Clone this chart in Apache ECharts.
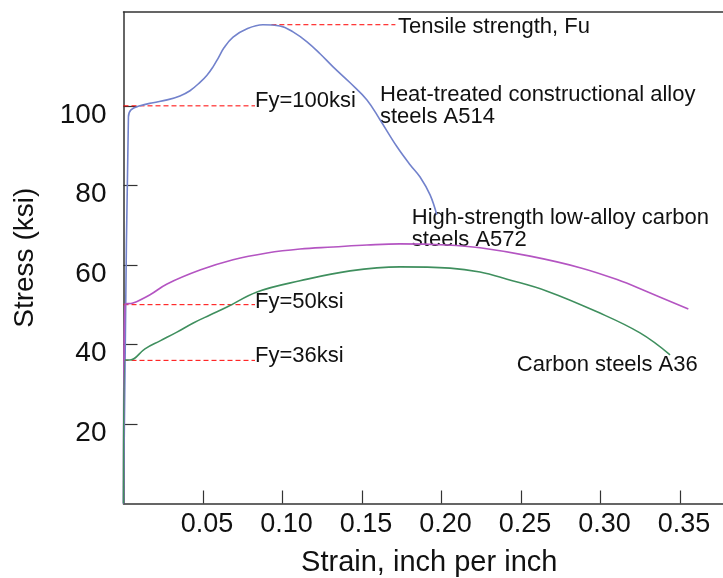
<!DOCTYPE html>
<html>
<head>
<meta charset="utf-8">
<script src="https://cdn.jsdelivr.net/npm/echarts@6/dist/echarts.min.js"></script>
<style>html,body{margin:0;background:#fff}#chart{width:723px;height:578px}</style>
</head>
<body>
<div id="chart"></div>
<script>
// stress-strain curves, [strain, stress ksi]
const a514=[[0,0],[0.0031,97.2],[0.0047,99.0],[0.0104,100.0],[0.0186,100.8],[0.0274,101.5],[0.0355,102.5],
  [0.0418,103.8],[0.0481,105.9],[0.0525,107.7],[0.0563,109.8],[0.0594,111.9],[0.0632,114.6],[0.0689,117.3],
  [0.0777,119.4],[0.0877,120.4],[0.0984,120.1],[0.1066,118.6],[0.1154,116.1],[0.1236,113.1],[0.1318,109.8],
  [0.1425,105.8],[0.1531,101.5],[0.1613,96.5],[0.172,89.7],[0.1802,85.2],[0.1865,82.1],[0.1928,77.6],[0.197,72.6]];
const a572=[[0,0],[0.001,50.1],[0.006,50.4],[0.0167,52.5],[0.0274,55.2],[0.0481,58.7],[0.0689,61.3],
  [0.0903,63],[0.111,64],[0.1318,64.5],[0.1531,65],[0.1739,65.3],[0.2035,65],[0.2242,64.3],[0.2557,62.2],
  [0.2871,59.3],[0.3104,56.3],[0.329,53.3],[0.3552,48.9]];
const a36=[[0,0],[0.001,36.1],[0.0041,36.1],[0.0135,38.9],[0.023,40.9],[0.0336,43.1],[0.0439,45.4],
  [0.0544,47.4],[0.0651,49.4],[0.084,53.2],[0.111,56],[0.1425,58.5],[0.1739,59.5],[0.2053,59.2],
  [0.2242,58.2],[0.2412,56.4],[0.2664,53.4],[0.2978,48.2],[0.3248,42.9],[0.3437,37.4]];

// dashed reference lines: [stress, from strain, to strain]
const refLines=[[100,0,0.0827],[120.4,0.093,0.171],[50,0,0.0827],[36,0,0.0827]];

// texts, [strain, stress] of left-middle of text
const noteText=["Tensile strength, Fu","Fy=100ksi","Fy=50ksi","Fy=36ksi",
  "Heat-treated constructional alloy\nsteels A514","High-strength low-alloy carbon\nsteels A572","Carbon steels A36"];
const notePos=[[0.1726,119.75],[0.0827,101.2],[0.0827,50.6],[0.0827,37.0],
  [0.1613,100.0],[0.1813,69.1],[0.2473,34.8]];

const xTicks=[0.05,0.10,0.15,0.20,0.25,0.30,0.35];
const yTicks=[20,40,60,80,100];

const font="'Liberation Sans', Arial, sans-serif";
const ink="#111";
const axisCol="#333";

const curve=(d,c)=>({type:"line",data:d,showSymbol:false,smooth:0.4,silent:true,
  lineStyle:{color:c,width:1.6}});
const dashLine=l=>({type:"line",data:[[l[1],l[0]],[l[2],l[0]]],showSymbol:false,silent:true,
  lineStyle:{color:"#ff0000",type:[5,3],width:1}});

const chart=echarts.init(document.getElementById("chart"));
chart.setOption({
  animation:false,
  grid:{left:123.5,right:0,top:12,bottom:74.5,outerBoundsMode:"none"},
  xAxis:[{
    type:"value",min:0,max:0.377,
    name:"Strain, inch per inch",nameLocation:"middle",nameGap:45,
    nameTextStyle:{color:ink,fontFamily:font,fontSize:29,padding:[0,0,0,12]},
    axisLine:{lineStyle:{color:axisCol,width:1.5}},
    axisTick:{inside:true,length:13,customValues:xTicks,lineStyle:{color:axisCol,width:1.2}},
    axisLabel:{color:ink,fontFamily:font,fontSize:27,margin:8,padding:[0,0,0,8],
      customValues:xTicks,formatter:v=>v.toFixed(2)},
    splitLine:{show:false}
  },{
    type:"value",position:"top",min:0,max:0.377,
    axisLine:{show:true,lineStyle:{color:axisCol,width:1.5}},
    axisTick:{show:false},axisLabel:{show:false},splitLine:{show:false}
  }],
  yAxis:{
    type:"value",min:0,max:123.6,
    name:"Stress (ksi)",nameLocation:"middle",nameGap:84,
    nameTextStyle:{color:ink,fontFamily:font,fontSize:28},
    axisLine:{lineStyle:{color:axisCol,width:1.5}},
    axisTick:{inside:true,length:14,customValues:yTicks,lineStyle:{color:axisCol,width:1.2}},
    axisLabel:{color:ink,fontFamily:font,fontSize:28,margin:17,customValues:yTicks,
      verticalAlign:"top",lineHeight:18},
    splitLine:{show:false}
  },
  series:[
    ...refLines.map(dashLine),
    curve(a514,"#7282cc"),
    curve(a572,"#b455c2"),
    curve(a36,"#3f8f5e"),
    {type:"scatter",symbolSize:0,silent:true,itemStyle:{opacity:1},
      data:notePos.map((p,i)=>({value:p,label:{formatter:noteText[i]}})),
      label:{show:true,position:"right",distance:0,color:ink,fontFamily:font,fontSize:22,lineHeight:22,align:"left"}}
  ]
});
</script>
</body>
</html>
